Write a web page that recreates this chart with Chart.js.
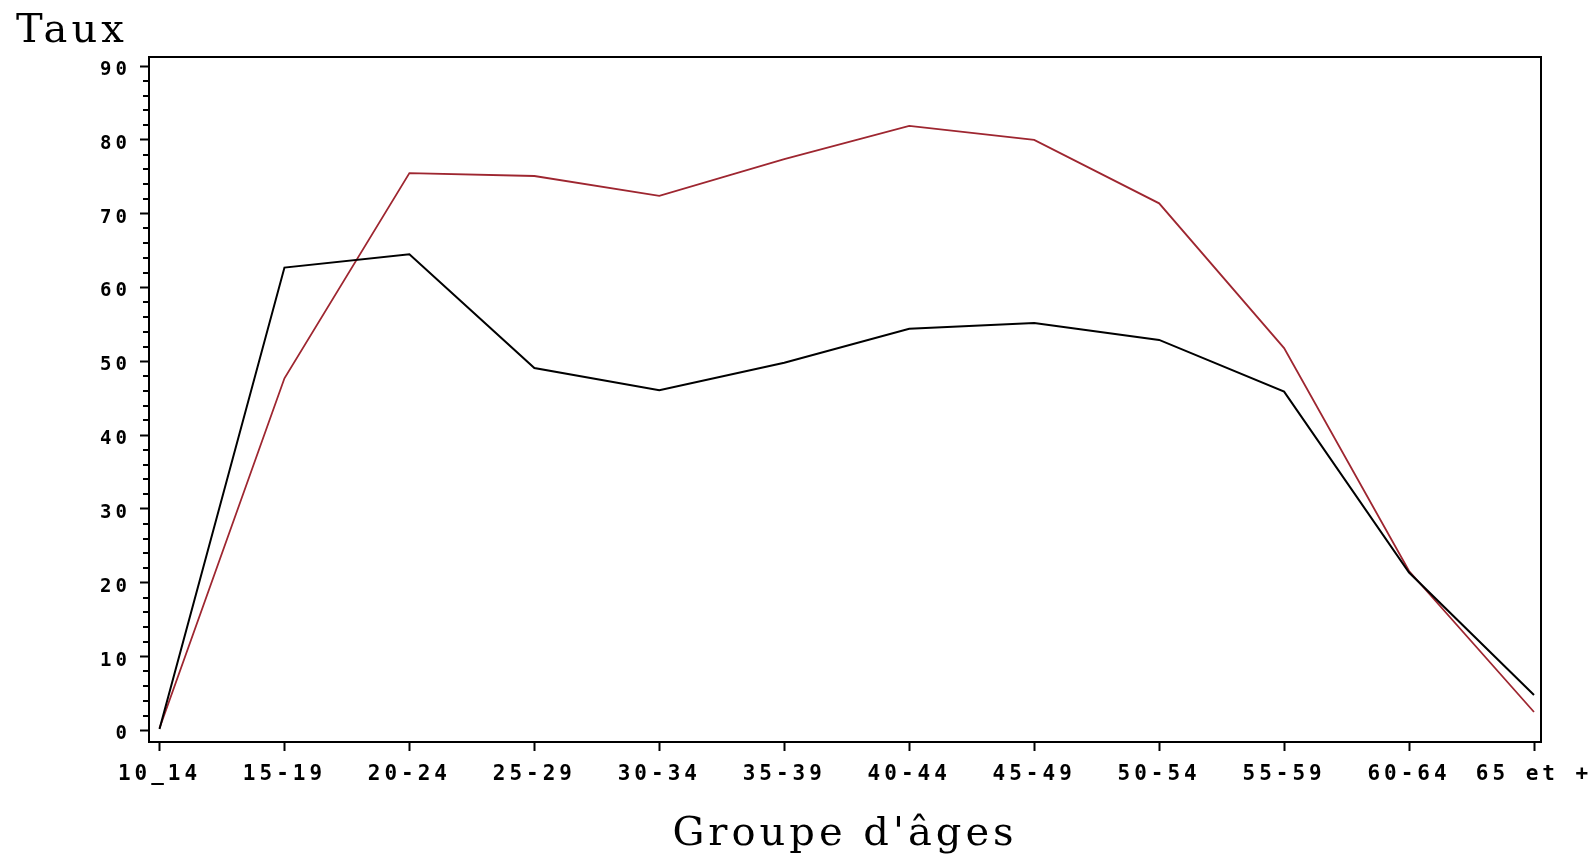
<!DOCTYPE html>
<html>
<head>
<meta charset="utf-8">
<script src="https://cdn.jsdelivr.net/npm/chart.js@4.4.1/dist/chart.umd.min.js"></script>
<style>
  html, body { margin: 0; padding: 0; background: #fff; }
  #wrap { width: 1593px; height: 859px; }
</style>
</head>
<body>
<div id="wrap"><canvas id="tauxChart"></canvas></div>
<script>
// groupes d'ages
const groupes = ['10_14', '15-19', '20-24', '25-29', '30-34', '35-39', '40-44', '45-49', '50-54', '55-59', '60-64', '65 et +']
// courbe noire
const tauxNoir = [0.2, 62.7, 64.5, 49.1, 46.1, 49.8, 54.4, 55.2, 52.9, 45.9, 21.4, 4.8]
// courbe rouge
const tauxRouge = [0.3, 47.7, 75.5, 75.1, 72.4, 77.4, 81.9, 80.0, 71.4, 51.8, 21.6, 2.5]
const yTicks = [0, 10, 20, 30, 40, 50, 60, 70, 80, 90]

const toPoints = (vals) => vals.map((v, i) => ({ x: i, y: v }))

// espacement des lettres pour imiter la police d'origine
const spacingPlugin = {
  id: 'spacing',
  beforeLayout(chart) { chart.ctx.letterSpacing = '4px' },
  beforeDraw(chart) { chart.ctx.letterSpacing = '4px' }
}

// cadre + petites graduations
const framePlugin = {
  id: 'frame',
  afterDraw(chart) {
    const { ctx, chartArea, scales } = chart
    const { left, top, right, bottom } = chartArea
    ctx.save()
    ctx.strokeStyle = '#000'
    ctx.lineWidth = 2
    ctx.strokeRect(left, top, right - left, bottom - top)
    ctx.beginPath()
    for (let v = 0; v <= 90; v += 2) {
      if (v % 10 === 0) continue
      const py = Math.round(scales.y.getPixelForValue(v))
      ctx.moveTo(left - 6, py)
      ctx.lineTo(left, py)
    }
    ctx.stroke()
    ctx.restore()
  }
}

const titleFont = { family: 'DejaVu Serif', size: 40, weight: 'normal' }

new Chart(document.getElementById('tauxChart'), {
  type: 'line',
  data: {
    datasets: [{
      label: 'noir',
      data: toPoints(tauxNoir),
      borderColor: '#000000',
      borderWidth: 2,
      pointRadius: 0,
      tension: 0
    }, {
      label: 'rouge',
      data: toPoints(tauxRouge),
      borderColor: '#9e2630',
      borderWidth: 1.8,
      pointRadius: 0,
      tension: 0
    }]
  },
  plugins: [spacingPlugin, framePlugin],
  options: {
    responsive: true,
    maintainAspectRatio: false,
    animation: false,
    layout: { padding: { left: 16, right: 52, top: 0, bottom: 0 } },
    plugins: {
      legend: { display: false },
      tooltip: { enabled: false },
      title: {
        display: true,
        text: 'Taux',
        align: 'start',
        color: '#000',
        font: titleFont,
        padding: { top: 8, bottom: 1 }
      }
    },
    scales: {
      x: {
        type: 'linear',
        min: -0.084,
        max: 11.056,
        afterBuildTicks: (axis) => { axis.ticks = groupes.map((g, i) => ({ value: i })) },
        afterFit: (axis) => {
          axis.height = 117
          axis.paddingLeft = 0
          axis.paddingRight = 0
        },
        grid: { drawOnChartArea: false, drawTicks: true, tickLength: 9, tickWidth: 2, tickColor: '#000' },
        border: { display: false },
        ticks: {
          color: '#000',
          font: { family: 'DejaVu Sans Mono', size: 21, weight: 'bold' },
          padding: 11,
          autoSkip: false,
          maxRotation: 0,
          callback: (v) => groupes[v]
        },
        title: {
          display: true,
          text: "Groupe d'âges",
          color: '#000',
          font: titleFont,
          padding: { top: 0, bottom: 0 }
        }
      },
      y: {
        type: 'linear',
        min: -1.56,
        max: 91.22,
        afterBuildTicks: (axis) => { axis.ticks = yTicks.map(v => ({ value: v })) },
        afterFit: (axis) => { axis.width = 133 },
        grid: { drawOnChartArea: false, drawTicks: true, tickLength: 9, tickWidth: 2, tickColor: '#000' },
        border: { display: false },
        ticks: {
          color: '#000',
          font: { family: 'DejaVu Sans Mono', size: 19, weight: 'bold' },
          padding: 9,
          labelOffset: 4
        }
      }
    }
  }
})
</script>
</body>
</html>
